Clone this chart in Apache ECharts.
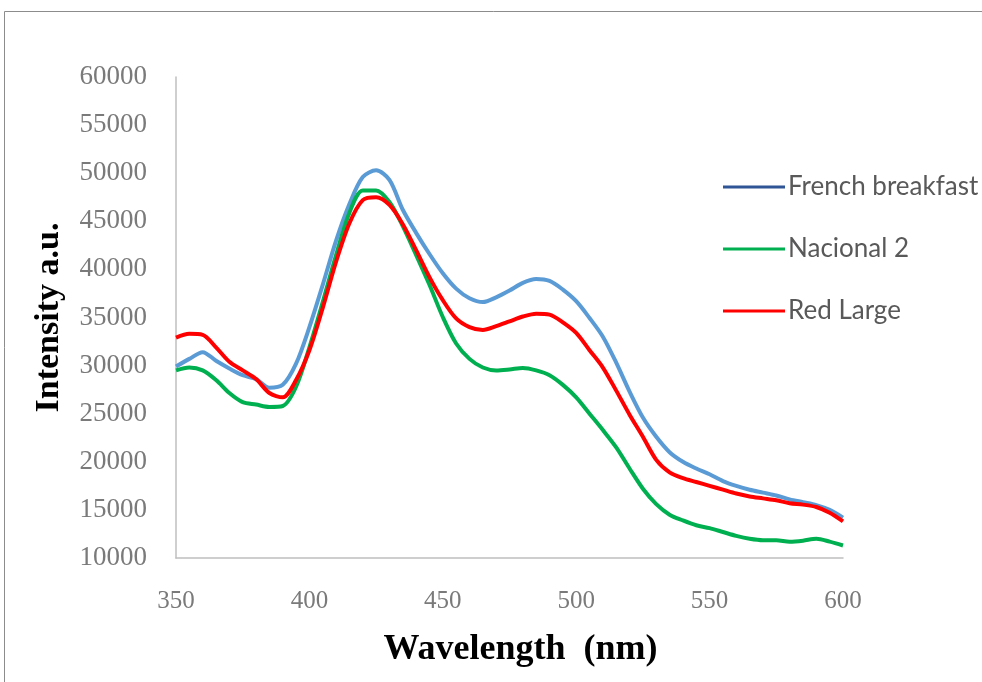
<!DOCTYPE html>
<html>
<head>
<meta charset="utf-8">
<script src="https://cdn.jsdelivr.net/npm/echarts@6/dist/echarts.min.js"></script>
<style>html,body{margin:0;padding:0;background:#fff}#chart{width:982px;height:682px}</style>
</head>
<body>
<div id="chart"></div>
<script>
// Wavelength (nm), 5 nm steps from 350 to 600
const wavelengths = [350,355,360,365,370,375,380,385,390,395,400,405,410,415,420,425,430,435,440,445,450,455,460,465,470,475,480,485,490,495,500,505,510,515,520,525,530,535,540,545,550,555,560,565,570,575,580,585,590,595,600];
const seriesNames = ["French breakfast", "Nacional 2", "Red Large"];
const frenchBreakfast = [29900,30700,31400,30500,29700,29000,28600,27700,28000,30200,34000,38400,43000,46800,49600,50300,49300,46200,43800,41600,39600,38000,37000,36600,37100,37800,38600,39000,38800,37900,36700,34950,33000,30300,27300,24600,22600,21000,20000,19300,18700,18000,17500,17100,16800,16500,16100,15800,15500,15000,14200];
const nacional2 = [29500,29800,29500,28500,27150,26200,25950,25700,25800,27800,31900,36600,41500,45900,48200,48200,47000,44500,41500,38400,35050,32300,30700,29800,29500,29600,29750,29500,29000,28000,26700,25000,23300,21500,19300,17200,15600,14500,13900,13400,13100,12700,12300,12000,11850,11850,11700,11800,12000,11700,11300];
const redLarge = [32900,33300,33200,31900,30400,29500,28600,27150,26700,28500,31600,36000,40800,44800,47200,47500,46700,44700,42000,39200,36800,34900,34000,33700,34100,34600,35100,35400,35300,34500,33400,31600,29800,27400,24900,22600,20200,18900,18300,17900,17500,17100,16700,16400,16200,16000,15700,15550,15300,14700,13800];
const xTicks = [350,400,450,500,550,600];
const yTicks = [10000,15000,20000,25000,30000,35000,40000,45000,50000,55000,60000];

const lineColors = ["#5B9BD5", "#00B050", "#FF0000"];
const legendColors = ["#2F5597", "#00B050", "#FF0000"];
const allValues = [frenchBreakfast, nacional2, redLarge];

const chart = echarts.init(document.getElementById('chart'));
const serif = "'Liberation Serif', 'DejaVu Serif', serif";
chart.setOption({
  backgroundColor: '#ffffff',
  animation: false,
  graphic: [{
    type: 'rect', silent: true,
    shape: {x: 4.5, y: 11.5, width: 1100, height: 800},
    style: {fill: 'none', stroke: '#8c8c8c', lineWidth: 1}
  }],
  grid: {left: 176, right: 139, top: 77, bottom: 124, containLabel: false},
  legend: {
    orient: 'vertical', left: 718, top: 169,
    icon: 'rect', itemWidth: 62, itemHeight: 3, itemGap: 36,
    textStyle: {fontFamily: "Lato, 'Open Sans', sans-serif", fontSize: 26, lineHeight: 26, color: '#595959', padding: [0,0,0,-2]},
    data: seriesNames.map((n, i) => ({name: n, itemStyle: {color: legendColors[i]}}))
  },
  xAxis: {
    type: 'value', min: xTicks[0], max: xTicks[xTicks.length-1], interval: 50,
    name: 'Wavelength  (nm)', nameLocation: 'middle', nameGap: 74,
    nameTextStyle: {fontFamily: serif, fontWeight: 'bold', fontSize: 36, color: '#000', padding: [0,0,0,22]},
    axisLine: {show: true, onZero: false, lineStyle: {color: '#bfbfbf', width: 1.5}},
    axisTick: {show: false},
    splitLine: {show: false},
    axisLabel: {margin: 31, fontFamily: serif, fontSize: 25, color: '#7a7a7a'}
  },
  yAxis: {
    type: 'value', min: yTicks[0], max: yTicks[yTicks.length-1], interval: 5000,
    name: 'Intensity a.u.', nameLocation: 'middle', nameGap: 110, nameRotate: 90,
    nameTextStyle: {fontFamily: serif, fontWeight: 'bold', fontSize: 34, color: '#000'},
    axisLine: {show: true, lineStyle: {color: '#bfbfbf', width: 1.5}},
    axisTick: {show: false},
    splitLine: {show: false},
    axisLabel: {margin: 29, fontFamily: serif, fontSize: 27, color: '#7a7a7a', formatter: v => String(v)}
  },
  series: seriesNames.map((n, i) => ({
    name: n, type: 'line', symbol: 'none', smooth: 0.3,
    lineStyle: {width: 4, color: lineColors[i]},
    itemStyle: {color: lineColors[i]},
    data: wavelengths.map((w, k) => [w, allValues[i][k]])
  }))
});
</script>
</body>
</html>
